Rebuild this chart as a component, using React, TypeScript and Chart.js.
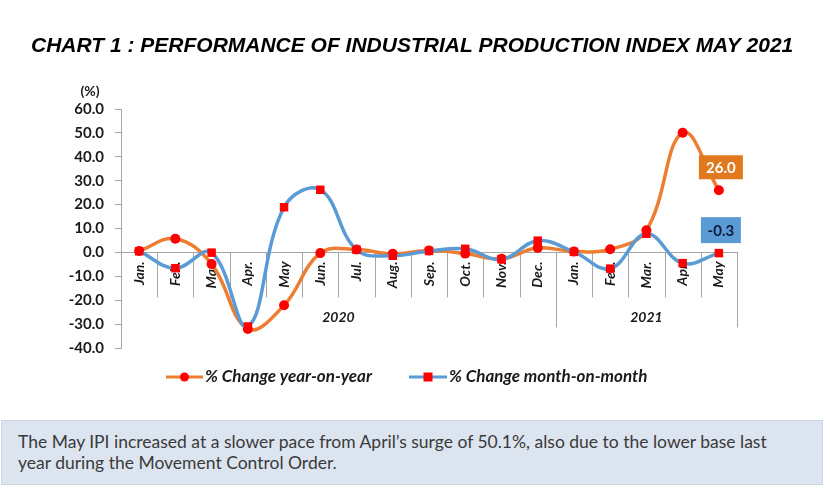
import { useEffect, useRef } from "react";
import { Chart, registerables } from "chart.js";

Chart.register(...registerables);

const TITLE = "CHART 1 : PERFORMANCE OF INDUSTRIAL PRODUCTION INDEX MAY 2021";
const UNIT = "(%)";
const NOTE =
  "The May IPI increased at a slower pace from April\u2019s surge of 50.1%, also due to the lower base last year during the Movement Control Order.";

const months = [
  "Jan.", "Feb.", "Mar.", "Apr.", "May", "Jun.", "Jul.", "Aug.", "Sep.",
  "Oct.", "Nov.", "Dec.", "Jan.", "Feb.", "Mar.", "Apr.", "May",
];
const years = ["2020", "2021"];
const yearSpans = [12, 5];

const seriesNames = ["% Change year-on-year", "% Change month-on-month"];
const yoy = [0.6, 5.7, -4.9, -32.0, -22.1, -0.3, 1.2, -0.6, 0.8, -0.5, -2.7, 1.9, 0.4, 1.3, 9.3, 50.1, 26.0];
const mom = [0.5, -6.6, -0.1, -31.0, 18.9, 26.2, 1.1, -1.4, 0.6, 1.5, -2.9, 4.9, 0.2, -6.8, 7.8, -4.5, -0.3];

const yMin = -40;
const yMax = 60;
const yStep = 10;

const ORANGE = "#ED7D31";
const ORANGE_BOX = "#E0791E";
const BLUE = "#5B9BD5";
const MARKER = "#FF0000";
const AXIS_GRAY = "#A6A6A6";
const TEXT_DARK = "#1a1a1a";

const labelFont = "Lato";

const overlayPlugin = {
  id: "overlay",
  beforeDatasetsDraw(chart: any) {
    const { ctx, scales } = chart;
    const x = scales.x;
    const y = scales.y;
    const y0 = y.getPixelForValue(0);
    const half = (x.getPixelForValue(1) - x.getPixelForValue(0)) / 2;
    ctx.save();
    ctx.strokeStyle = AXIS_GRAY;
    ctx.lineWidth = 1;
    let idx = 0;
    const boundaries: number[] = [];
    yearSpans.forEach((span) => {
      idx += span;
      boundaries.push(idx);
    });
    for (let i = 1; i <= months.length; i++) {
      const px = Math.round(x.getPixelForValue(i) - half) + 0.5;
      const isLong = boundaries.includes(i);
      ctx.beginPath();
      ctx.moveTo(px, y0);
      ctx.lineTo(px, y0 + (isLong ? 75 : 45));
      ctx.stroke();
    }
    ctx.fillStyle = TEXT_DARK;
    ctx.font = `italic bold 14px ${labelFont}`;
    ctx.textAlign = "center";
    ctx.textBaseline = "middle";
    let start = 0;
    years.forEach((yr, k) => {
      const end = start + yearSpans[k] - 1;
      const left = x.getPixelForValue(start) - half;
      const right = x.getPixelForValue(end) + half;
      ctx.fillText(yr, (left + right) / 2, y0 + 65);
      start += yearSpans[k];
    });
    ctx.restore();
  },
  afterDraw(chart: any) {
    const { ctx, scales } = chart;
    const x = scales.x;
    const y = scales.y;
    ctx.save();
    ctx.fillStyle = "#000";
    ctx.font = "italic bold 21px 'Liberation Sans'";
    ctx.textAlign = "left";
    ctx.textBaseline = "alphabetic";
    ctx.fillText(TITLE, 31, 52);
    ctx.font = `bold 14px ${labelFont}`;
    ctx.textAlign = "center";
    ctx.textBaseline = "middle";
    ctx.fillStyle = TEXT_DARK;
    ctx.fillText(UNIT, 90, 91);

    const last = months.length - 1;
    const callouts = [
      { v: yoy[last], bg: ORANGE_BOX, fg: "#ffffff", w: 44, h: 24 },
      { v: mom[last], bg: BLUE, fg: "#0b1b3a", w: 40, h: 26 },
    ];
    callouts.forEach((c) => {
      const px = x.getPixelForValue(last) + 2;
      const py = y.getPixelForValue(c.v) - 23;
      ctx.fillStyle = c.bg;
      ctx.fillRect(px - c.w / 2, py - c.h / 2, c.w, c.h);
      ctx.fillStyle = c.fg;
      ctx.font = `bold 15px ${labelFont}`;
      ctx.textAlign = "center";
      ctx.textBaseline = "middle";
      ctx.fillText(c.v.toFixed(1), px, py + 1);
    });

    const ly = 377;
    const items = [
      { name: seriesNames[0], color: ORANGE, shape: "circle", x0: 166, x1: 203 },
      { name: seriesNames[1], color: BLUE, shape: "square", x0: 409, x1: 447 },
    ];
    items.forEach((it) => {
      ctx.strokeStyle = it.color;
      ctx.lineWidth = 3;
      ctx.beginPath();
      ctx.moveTo(it.x0, ly);
      ctx.lineTo(it.x1, ly);
      ctx.stroke();
      const cx = (it.x0 + it.x1) / 2;
      ctx.fillStyle = MARKER;
      if (it.shape === "circle") {
        ctx.beginPath();
        ctx.arc(cx, ly, 4.5, 0, Math.PI * 2);
        ctx.fill();
      } else {
        ctx.fillRect(cx - 4.5, ly - 4.5, 9, 9);
      }
      ctx.fillStyle = TEXT_DARK;
      ctx.font = `italic bold 17px ${labelFont}`;
      ctx.textAlign = "left";
      ctx.textBaseline = "middle";
      ctx.fillText(it.name, it.x1 + 2, ly);
    });
    ctx.restore();
  },
};

export default function App() {
  const ref = useRef<HTMLCanvasElement | null>(null);

  useEffect(() => {
    if (!ref.current) return;
    const chart = new Chart(ref.current, {
      type: "line",
      data: {
        labels: months,
        datasets: [
          {
            label: seriesNames[0],
            data: yoy,
            borderColor: ORANGE,
            backgroundColor: MARKER,
            borderWidth: 3.5,
            pointStyle: "circle",
            pointRadius: 5,
            pointBorderWidth: 0,
            pointBackgroundColor: MARKER,
            tension: 0.4,
            order: 2,
          },
          {
            label: seriesNames[1],
            data: mom,
            borderColor: BLUE,
            backgroundColor: MARKER,
            borderWidth: 3.5,
            pointStyle: "rect",
            pointRadius: 6,
            pointBorderWidth: 0,
            pointBackgroundColor: MARKER,
            tension: 0.4,
            order: 1,
          },
        ],
      },
      options: {
        animation: false,
        responsive: false,
        maintainAspectRatio: false,
        layout: { padding: { left: 40, right: 93, top: 109, bottom: 62 } },
        plugins: {
          legend: { display: false },
          title: { display: false },
          tooltip: { enabled: false },
        },
        scales: {
          x: {
            type: "category",
            position: { y: 0 } as any,
            offset: true,
            grid: { display: false, drawTicks: false },
            border: { display: true, color: AXIS_GRAY, width: 1 },
            ticks: {
              minRotation: 90,
              maxRotation: 90,
              autoSkip: false,
              padding: 9,
              color: TEXT_DARK,
              font: { family: labelFont, size: 14, style: "italic", weight: "bold" },
            },
          },
          y: {
            min: yMin,
            max: yMax,
            afterFit: (s: any) => {
              s.width = 81;
            },
            grid: { drawOnChartArea: false, drawTicks: true, tickLength: 6, color: AXIS_GRAY },
            border: { display: true, color: AXIS_GRAY, width: 1 },
            ticks: {
              stepSize: yStep,
              padding: 11,
              color: TEXT_DARK,
              font: { family: labelFont, size: 15, weight: "bold" },
              callback: (v: any) => Number(v).toFixed(1),
            },
          },
        },
      },
      plugins: [overlayPlugin],
    });
    return () => chart.destroy();
  }, []);

  return (
    <div style={{ position: "absolute", left: 0, top: 0, width: 830, height: 504, background: "#fff" }}>
      <canvas ref={ref} width={830} height={410} style={{ position: "absolute", left: 0, top: 0, width: 830, height: 410 }} />
      <div
        style={{
          position: "absolute",
          left: 1,
          top: 420,
          width: 822,
          height: 65,
          boxSizing: "border-box",
          background: "#DCE5EF",
          border: "1px solid #CDD5DE",
          padding: "10px 45px 0 16px",
          fontFamily: "Lato, sans-serif",
          fontSize: 17.5,
          lineHeight: "21px",
          color: "#3a3a3a",
        }}
      >
        {NOTE}
      </div>
    </div>
  );
}
